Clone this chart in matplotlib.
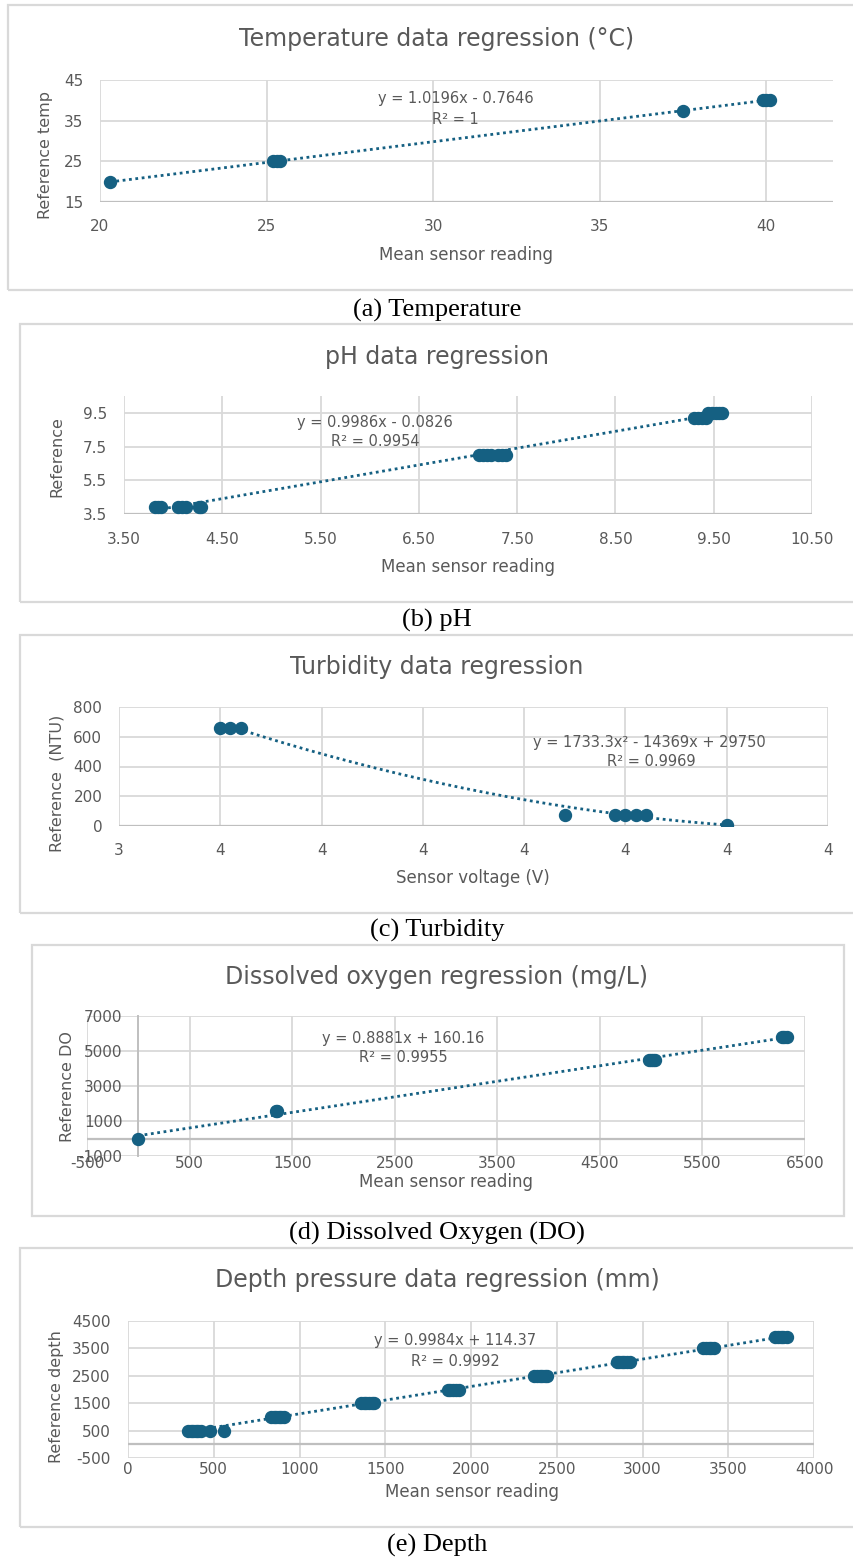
"""Five sensor calibration regressions stacked in one figure."""

import matplotlib

matplotlib.use("Agg")
import matplotlib.pyplot as plt
import numpy as np
from matplotlib.patches import Rectangle

W, H = 854, 1557
BLUE = "#156082"
TEXT_GREY = "#595959"
GRID_GREY = "#d9d9d9"
AXIS_GREY = "#bfbfbf"

plt.rcParams.update(
    {
        "font.family": "DejaVu Sans",
        "text.color": TEXT_GREY,
        "xtick.color": TEXT_GREY,
        "ytick.color": TEXT_GREY,
        "xtick.labelsize": 11,
        "ytick.labelsize": 11,
        "xtick.major.size": 0,
        "ytick.major.size": 0,
        "axes.unicode_minus": False,
    }
)

# (a) temperature
temp_x = [20.3, 25.2, 25.3, 25.4, 37.5, 39.9, 40.0, 40.1]
temp_y = [20, 25, 25, 25, 37.5, 40, 40, 40]
temp_fit = [1.0196, -0.7646]
temp_xticks = [20, 25, 30, 35, 40]
temp_yticks = [15, 25, 35, 45]

# (b) pH
ph_x = [3.82, 3.85, 3.88, 4.05, 4.09, 4.13, 4.26, 4.28,
        7.11, 7.15, 7.19, 7.23, 7.31, 7.35, 7.39,
        9.30, 9.34, 9.38, 9.42, 9.44, 9.48, 9.52, 9.55, 9.58]
ph_y = [3.9, 3.9, 3.9, 3.9, 3.9, 3.9, 3.9, 3.9,
        7.0, 7.0, 7.0, 7.0, 7.0, 7.0, 7.0,
        9.2, 9.2, 9.2, 9.2, 9.5, 9.5, 9.5, 9.5, 9.5]
ph_fit = [0.9986, -0.0826]
ph_xticks = [3.5, 4.5, 5.5, 6.5, 7.5, 8.5, 9.5, 10.5]
ph_yticks = [3.5, 5.5, 7.5, 9.5]

# (c) turbidity
turb_x = [3.50, 3.51, 3.52, 3.84, 3.89, 3.90, 3.91, 3.92, 4.00]
turb_y = [660, 660, 660, 75, 75, 75, 75, 75, 5]
turb_fit = [1733.3, -14369, 29750]
turb_xticks = [3.4, 3.5, 3.6, 3.7, 3.8, 3.9, 4.0, 4.1]
turb_xticklabels = ["3", "4", "4", "4", "4", "4", "4", "4"]
turb_yticks = [0, 200, 400, 600, 800]

# (d) dissolved oxygen
do_x = [0, 1340, 1355, 4975, 4995, 5015, 5035, 6280, 6300, 6320]
do_y = [0, 1600, 1600, 4500, 4500, 4500, 4500, 5800, 5800, 5800]
do_fit = [0.8881, 160.16]
do_xticks = [-500, 500, 1500, 2500, 3500, 4500, 5500, 6500]
do_yticks = [-1000, 1000, 3000, 5000, 7000]

# (e) depth
depth_x = [350, 365, 380, 395, 410, 425, 480, 557,
           835, 850, 865, 880, 895, 910,
           1360, 1375, 1390, 1405, 1420, 1435,
           1865, 1880, 1895, 1910, 1930,
           2370, 2385, 2400, 2415, 2430, 2445,
           2850, 2865, 2880, 2895, 2910, 2925,
           3355, 3370, 3385, 3400, 3415,
           3775, 3790, 3805, 3820, 3840]
depth_y = [500, 500, 500, 500, 500, 500, 500, 500,
           1000, 1000, 1000, 1000, 1000, 1000,
           1500, 1500, 1500, 1500, 1500, 1500,
           2000, 2000, 2000, 2000, 2000,
           2500, 2500, 2500, 2500, 2500, 2500,
           3000, 3000, 3000, 3000, 3000, 3000,
           3500, 3500, 3500, 3500, 3500,
           3900, 3900, 3900, 3900, 3900]
depth_fit = [0.9984, 114.37]
depth_xticks = [0, 500, 1000, 1500, 2000, 2500, 3000, 3500, 4000]
depth_yticks = [-500, 500, 1500, 2500, 3500, 4500]


def fx(px):
    return px / W


def fy(py):
    return 1 - py / H


def add_area(fig, left, top, right, bottom):
    return fig.add_axes([fx(left), fy(bottom), (right - left) / W, (bottom - top) / H])


def add_box(fig, left, top, right, bottom):
    fig.patches.append(
        Rectangle((fx(left), fy(bottom)), (right - left) / W, (bottom - top) / H,
                  transform=fig.transFigure, fill=False, edgecolor=GRID_GREY, lw=1.6)
    )


def draw_points(ax, xs, ys, fit):
    grid_x = np.linspace(min(xs), max(xs), 300)
    ax.plot(grid_x, np.polyval(fit, grid_x), linestyle=(0, (1, 1.3)), color=BLUE,
            lw=2.0, zorder=3)
    ax.plot(xs, ys, "o", color=BLUE, ms=8.6, mec=BLUE, zorder=4)


def style_axes(ax, xlim, ylim, xticks, yticks, xpad, ypad=12):
    ax.set_xlim(*xlim)
    ax.set_ylim(*ylim)
    ax.set_xticks(xticks)
    ax.set_yticks(yticks)
    for side in ("top", "right", "bottom", "left"):
        ax.spines[side].set_visible(False)
    ax.grid(True, color=GRID_GREY, lw=1.3)
    ax.set_axisbelow(True)
    ax.tick_params(axis="x", pad=xpad)
    ax.tick_params(axis="y", pad=ypad)


def label_panel(fig, title, title_y, xlabel, xlabel_pos, ylabel, ylabel_pos,
                eq, eq_pos, r2, r2_pos, caption, caption_y):
    fig.text(fx(437), fy(title_y), title, ha="center", va="center", fontsize=17)
    fig.text(fx(xlabel_pos[0]), fy(xlabel_pos[1]), xlabel, ha="center", va="center",
             fontsize=12)
    fig.text(fx(ylabel_pos[0]), fy(ylabel_pos[1]), ylabel, ha="center", va="center",
             fontsize=11.5, rotation=90)
    fig.text(fx(eq_pos[0]), fy(eq_pos[1]), eq, ha="center", va="center", fontsize=10.5)
    fig.text(fx(r2_pos[0]), fy(r2_pos[1]), r2, ha="center", va="center", fontsize=10.5)
    fig.text(fx(437), fy(caption_y), caption, ha="center", va="center", fontsize=19,
             family="Liberation Serif", color="black")


fig = plt.figure(figsize=(W / 100, H / 100), dpi=100)
fig.patch.set_facecolor("white")

# (a)
add_box(fig, 8, 5, 870, 290)
ax = add_area(fig, 100, 80, 833, 202)
style_axes(ax, (20, 42), (15, 45), temp_xticks, temp_yticks, xpad=12.5)
ax.axhline(15, color=AXIS_GREY, lw=1.6, zorder=1.5)
draw_points(ax, temp_x, temp_y, temp_fit)
label_panel(fig, "Temperature data regression (°C)", 39, "Mean sensor reading", (466, 255),
            "Reference temp", (46, 155), "y = 1.0196x - 0.7646", (456, 98),
            "R² = 1", (455, 119), "(a) Temperature", 310)

# (b)
add_box(fig, 20, 324, 870, 602)
ax = add_area(fig, 124, 396, 812, 514)
style_axes(ax, (3.5, 10.5), (3.5, 10.5), ph_xticks, ph_yticks, xpad=13)
ax.xaxis.set_major_formatter(plt.FormatStrFormatter("%.2f"))
ax.yaxis.set_major_formatter(plt.FormatStrFormatter("%.1f"))
ax.axhline(3.5, color=AXIS_GREY, lw=1.6, zorder=1.5)
draw_points(ax, ph_x, ph_y, ph_fit)
label_panel(fig, "pH data regression", 357, "Mean sensor reading", (468, 567),
            "Reference", (57, 457), "y = 0.9986x - 0.0826", (375, 422),
            "R² = 0.9954", (375, 442), "(b) pH", 620)

# (c)
add_box(fig, 20, 635, 870, 913)
ax = add_area(fig, 119, 707, 828, 826)
style_axes(ax, (3.4, 4.1), (0, 800), turb_xticks, turb_yticks, xpad=12.5)
ax.set_xticklabels(turb_xticklabels)
ax.axhline(0, color=AXIS_GREY, lw=1.6, zorder=1.5)
draw_points(ax, turb_x, turb_y, turb_fit)
label_panel(fig, "Turbidity data regression", 667, "Sensor voltage (V)", (473, 878),
            "Reference  (NTU)", (57, 783), "y = 1733.3x² - 14369x + 29750", (649, 742),
            "R² = 0.9969", (651, 762), "(c) Turbidity", 930)

# (d)
add_box(fig, 32, 945, 844, 1216)
ax = add_area(fig, 87, 1016, 805, 1156)
style_axes(ax, (-500, 6500), (-1000, 7000), do_xticks, do_yticks, xpad=0, ypad=11.5)
ax.spines["left"].set_visible(True)
ax.spines["left"].set_position(("data", 0))
ax.spines["left"].set_color(AXIS_GREY)
ax.spines["left"].set_linewidth(1.4)
ax.axhline(0, color=AXIS_GREY, lw=1.6, zorder=1.5)
draw_points(ax, do_x, do_y, do_fit)
label_panel(fig, "Dissolved oxygen regression (mg/L)", 977, "Mean sensor reading", (446, 1182),
            "Reference DO", (68, 1087), "y = 0.8881x + 160.16", (403, 1038),
            "R² = 0.9955", (403, 1058), "(d) Dissolved Oxygen (DO)", 1233)

# (e)
add_box(fig, 20, 1248, 870, 1527)
ax = add_area(fig, 128, 1321, 814, 1458)
style_axes(ax, (0, 4000), (-500, 4500), depth_xticks, depth_yticks, xpad=3, ypad=12.5)
ax.axhline(0, color=AXIS_GREY, lw=1.6, zorder=1.5)
draw_points(ax, depth_x, depth_y, depth_fit)
label_panel(fig, "Depth pressure data regression (mm)", 1280, "Mean sensor reading", (472, 1492),
            "Reference depth", (57, 1397), "y = 0.9984x + 114.37", (455, 1341),
            "R² = 0.9992", (455, 1362), "(e) Depth", 1545)

fig.savefig("out.png", dpi=100, facecolor="white")
